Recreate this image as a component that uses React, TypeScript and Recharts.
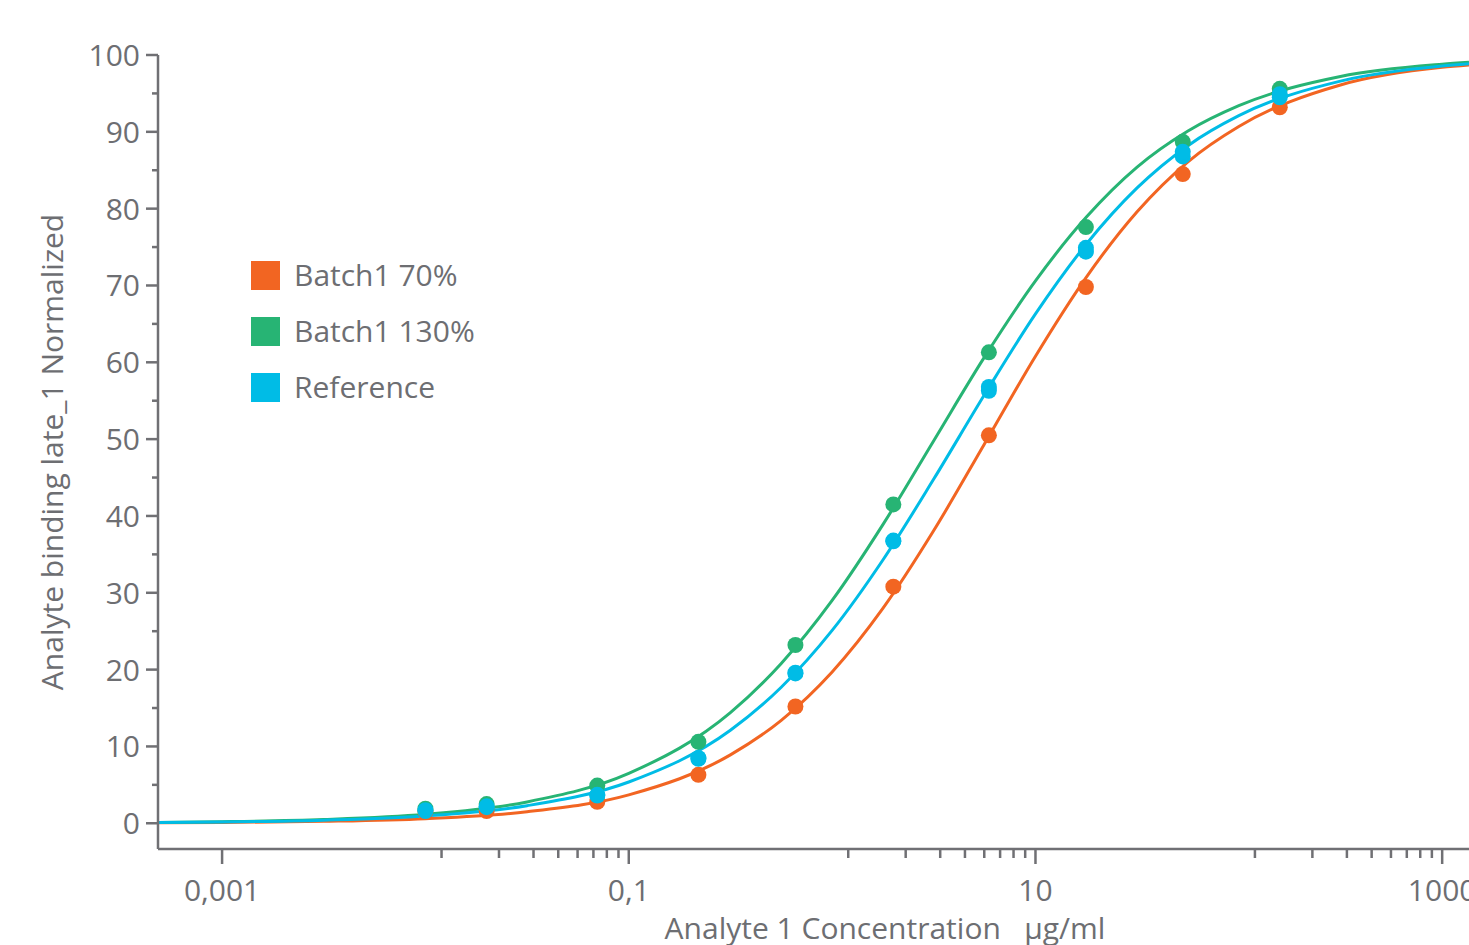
import React from 'react';
import { ComposedChart, XAxis, YAxis, Line, Scatter, Legend } from 'recharts';

// Measured concentrations (µg/ml)
const concentrations = [0.01, 0.02, 0.07, 0.22, 0.66, 2, 5.9, 17.7, 53, 159];
const batch70Values = [1.5, 1.6, 2.8, 6.3, 15.2, 30.8, 50.5, 69.8, 84.5, 93.2];
const batch130Values = [1.9, 2.5, 4.9, 10.6, 23.2, 41.5, 61.3, 77.6, 88.7, 95.6];
const referenceValues = [1.7, 2.2, 3.7, 8.5, 19.6, 36.8, 56.8, 74.9, 87.4, 94.9];
const referenceReplicateValues = [1.6, 2.1, 3.6, 8.4, 19.5, 36.7, 56.3, 74.4, 86.8, 94.5];

// Fitted curves
const fitConcentrations = [0.000484, 0.001, 0.00316, 0.01, 0.0316, 0.1, 0.316, 0.562, 1, 1.78, 3.16, 5.62, 10, 17.8, 31.6, 56.2, 100, 316, 1000, 1355];
const batch70Fit = [0.06, 0.1, 0.25, 0.6, 1.5, 3.7, 8.9, 13.4, 19.7, 28.0, 38.1, 49.4, 60.8, 71.1, 79.6, 86.1, 90.7, 96.1, 98.4, 98.7];
const batch130Fit = [0.11, 0.2, 0.48, 1.16, 2.78, 6.5, 14.4, 20.8, 29.0, 38.9, 49.8, 60.7, 70.6, 78.9, 85.4, 90.1, 93.4, 97.2, 98.8, 99.06];
const referenceFit = [0.09, 0.16, 0.4, 0.95, 2.29, 5.37, 12.1, 17.7, 25.1, 34.3, 44.8, 55.8, 66.3, 75.4, 82.7, 88.2, 92.1, 96.6, 98.56, 98.85];

const seriesNames = ['Batch1 70%', 'Batch1 130%', 'Reference'];
const seriesColors = ['#F26522', '#27B474', '#00BCE6'];

const xMajorTicks = [0.001, 0.1, 10, 1000];
const xMajorLabels = ['0,001', '0,1', '10', '1000'];
const xMinorTicks = [
  0.012, 0.023, 0.034, 0.045, 0.056, 0.067, 0.078, 0.089,
  1.2, 2.3, 3.4, 4.5, 5.6, 6.7, 7.8, 8.9,
  120, 230, 340, 450, 560, 670, 780, 890,
];
const yTicks = [0, 5, 10, 15, 20, 25, 30, 35, 40, 45, 50, 55, 60, 65, 70, 75, 80, 85, 90, 95, 100];

const AXIS = '#707074';
const TEXT = '#6d6e72';
const FONT = '"Open Sans", sans-serif';
const FS = 30;

const toPoints = (xs: number[], ys: number[]) => xs.map((x, i) => ({ x, y: ys[i] }));

const fits = [batch70Fit, batch130Fit, referenceFit].map((f) => toPoints(fitConcentrations, f));
const scatters = [
  toPoints(concentrations, batch70Values),
  toPoints(concentrations, batch130Values),
  [...toPoints(concentrations, referenceReplicateValues), ...toPoints(concentrations, referenceValues)],
];

const XTick = (props: any) => {
  const { x, y, payload } = props;
  const idx = xMajorTicks.indexOf(payload.value);
  const major = idx >= 0;
  return (
    <g>
      <line x1={x} y1={y} x2={x} y2={y + (major ? 15 : 9)} stroke={AXIS} strokeWidth={2.5} />
      {major && (
        <text x={x} y={y + 52} textAnchor="middle" fill={TEXT} fontSize={FS} fontFamily={FONT}>
          {xMajorLabels[idx]}
        </text>
      )}
    </g>
  );
};

const YTick = (props: any) => {
  const { x, y, payload } = props;
  const major = payload.value % 10 === 0;
  return (
    <g>
      <line x1={x - (major ? 12 : 6)} y1={y} x2={x} y2={y} stroke={AXIS} strokeWidth={2.5} />
      {major && (
        <text x={x - 18} y={y + 11} textAnchor="end" fill={TEXT} fontSize={FS} fontFamily={FONT}>
          {payload.value}
        </text>
      )}
    </g>
  );
};

const LegendContent = () => (
  <div style={{ fontFamily: FONT, fontSize: FS, color: TEXT }}>
    {seriesNames.map((n, i) => (
      <div key={n} style={{ display: 'flex', alignItems: 'center', height: 56 }}>
        <div style={{ width: 29, height: 29, background: seriesColors[i], marginRight: 14 }} />
        <span style={{ lineHeight: 1 }}>{n}</span>
      </div>
    ))}
  </div>
);

const Dot = (color: string) => (p: any) => <circle cx={p.cx} cy={p.cy} r={8} fill={color} />;

export default function App() {
  return (
    <div style={{ padding: '8px 0 0 8px', width: 1461, height: 937, overflow: 'visible' }}>
      <style>{'html { overflow: hidden; } body { margin: 0; }'}</style>
      <ComposedChart
        width={1461}
        height={937}
        style={{ maxWidth: 'none', width: 1461, height: 937 }}
        margin={{ top: 47, right: 0, bottom: 0, left: 0 }}
      >
        <XAxis
          dataKey="x"
          type="number"
          scale="log"
          domain={[0.000484, 1355]}
          allowDataOverflow
          ticks={[...xMajorTicks, ...xMinorTicks]}
          interval={0}
          height={96}
          tickSize={0}
          tickMargin={0}
          tickLine={false}
          tick={<XTick />}
          axisLine={{ stroke: AXIS, strokeWidth: 2.5 }}
          label={{
            content: (p: any) => (
              <text
                x={p.viewBox.x + 727}
                y={p.viewBox.y + 90}
                textAnchor="middle"
                fill={TEXT}
                fontSize={FS}
                fontFamily={FONT}
                style={{ whiteSpace: 'pre' }}
              >
                {'Analyte 1 Concentration   µg/ml'}
              </text>
            ),
          }}
        />
        <YAxis
          type="number"
          domain={[-3.35, 100]}
          allowDataOverflow
          ticks={yTicks}
          interval={0}
          width={150}
          tickSize={0}
          tickMargin={0}
          tickLine={false}
          tick={<YTick />}
          axisLine={{ stroke: AXIS, strokeWidth: 2.5 }}
          label={{
            content: (p: any) => {
              const cy = p.viewBox.y + p.viewBox.height / 2;
              return (
                <text
                  x={55}
                  y={cy}
                  transform={`rotate(-90 55 ${cy})`}
                  textAnchor="middle"
                  fill={TEXT}
                  fontSize={FS}
                  fontFamily={FONT}
                >
                  Analyte binding late_1 Normalized
                </text>
              );
            },
          }}
        />
        {fits.map((d, i) => (
          <Line
            key={'fit' + i}
            data={d}
            dataKey="y"
            type="monotone"
            stroke={seriesColors[i]}
            strokeWidth={3}
            dot={false}
            activeDot={false}
            isAnimationActive={false}
            legendType="none"
          />
        ))}
        {scatters.map((d, i) => (
          <Scatter
            key={'pts' + i}
            name={seriesNames[i]}
            data={d}
            dataKey="y"
            fill={seriesColors[i]}
            shape={Dot(seriesColors[i])}
            isAnimationActive={false}
          />
        ))}
        <Legend
          layout="vertical"
          align="center"
          verticalAlign="middle"
          wrapperStyle={{ left: 243, top: 239, width: 'auto', height: 'auto' }}
          content={<LegendContent />}
        />
      </ComposedChart>
    </div>
  );
}
